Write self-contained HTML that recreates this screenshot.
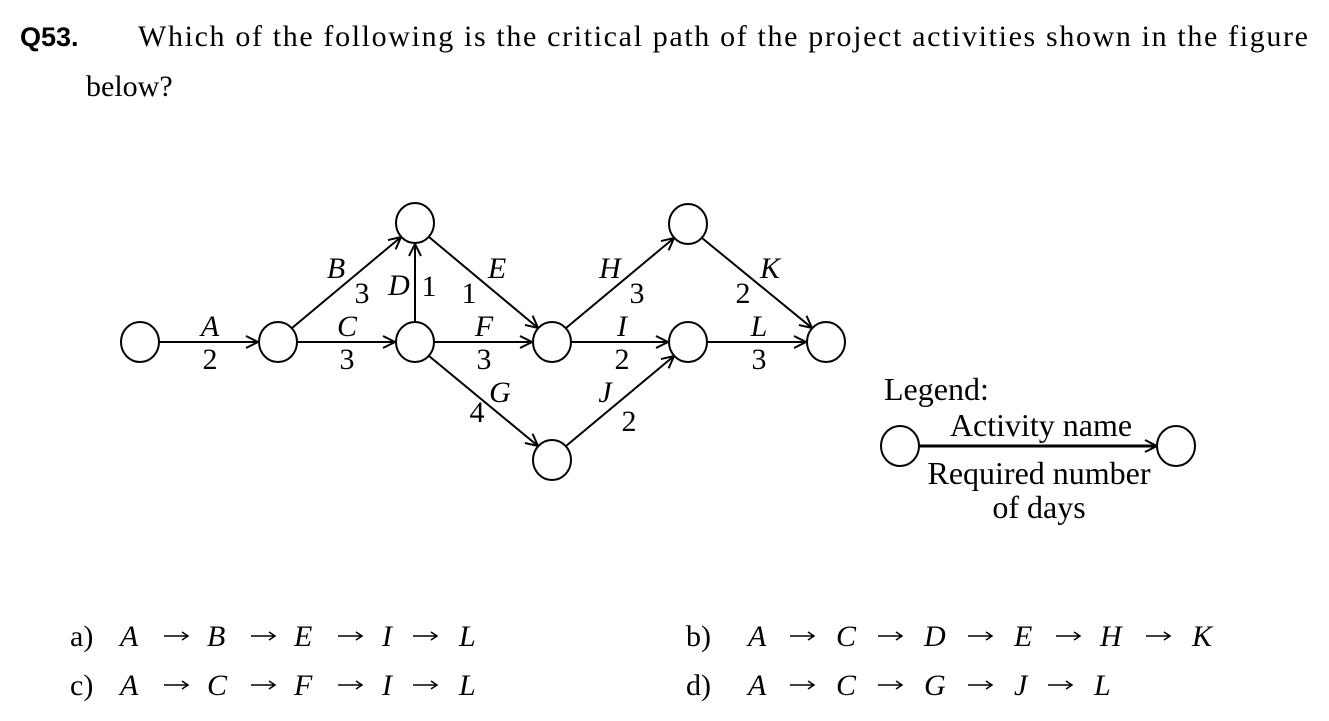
<!DOCTYPE html>
<html><head><meta charset="utf-8"><style>
html,body{margin:0;padding:0;background:#fff;}
body{width:1329px;height:721px;overflow:hidden;position:relative;}
</style></head><body>
<svg width="1329" height="721" viewBox="0 0 1329 721" xmlns="http://www.w3.org/2000/svg" style="position:absolute;left:0;top:0">
<defs>
<marker id="ar" markerWidth="14" markerHeight="14" refX="13" refY="7" orient="auto" markerUnits="userSpaceOnUse">
<path d="M1,1 L13,7 L1,13" fill="none" stroke="#000" stroke-width="2"/>
</marker>
<path id="sa" d="M0,0 H24 M18,-4 L24,0 L18,4" fill="none" stroke="#000" stroke-width="1.5"/>
</defs>
<g font-family="'Liberation Sans',sans-serif" font-weight="bold" font-size="27"><text x="20" y="46">Q53.</text></g>
<g font-family="'Liberation Serif',serif" font-size="30" fill="#000">
<text x="138" y="46" textLength="1170" lengthAdjust="spacing">Which of the following is the critical path of the project activities shown in the figure</text>
<text x="86" y="96">below?</text>
</g>
<g stroke="#000" stroke-width="2" fill="none">
<ellipse cx="140" cy="342" rx="19" ry="20"/>
<ellipse cx="278" cy="342" rx="19" ry="20"/>
<ellipse cx="415" cy="223" rx="19" ry="20"/>
<ellipse cx="415" cy="342" rx="19" ry="20"/>
<ellipse cx="552" cy="342" rx="19" ry="20"/>
<ellipse cx="552" cy="460" rx="19" ry="20"/>
<ellipse cx="688" cy="224" rx="19" ry="20"/>
<ellipse cx="688" cy="342" rx="19" ry="20"/>
<ellipse cx="826" cy="342" rx="19" ry="20"/>
<ellipse cx="900" cy="446" rx="19" ry="20"/>
<ellipse cx="1176" cy="446" rx="19" ry="20"/>
</g>
<g stroke="#000" stroke-width="2" fill="none" marker-end="url(#ar)">
<line x1="159" y1="342" x2="258" y2="342"/>
<line x1="297" y1="342" x2="395" y2="342"/>
<line x1="292" y1="328" x2="401" y2="237"/>
<line x1="415" y1="322" x2="415" y2="244"/>
<line x1="429" y1="237" x2="538" y2="328"/>
<line x1="434" y1="342" x2="532" y2="342"/>
<line x1="429" y1="356" x2="538" y2="446"/>
<line x1="566" y1="328" x2="674" y2="238"/>
<line x1="571" y1="342" x2="668" y2="342"/>
<line x1="566" y1="446" x2="674" y2="356"/>
<line x1="702" y1="238" x2="812" y2="328"/>
<line x1="707" y1="342" x2="806" y2="342"/>
<line x1="919" y1="446" x2="1157" y2="446" stroke-width="3"/>
</g>
<g font-family="'Liberation Serif',serif" font-size="30" fill="#000" text-anchor="middle">
<g font-style="italic">
<text x="210" y="336">A</text><text x="347" y="336">C</text><text x="336" y="278">B</text>
<text x="399" y="295">D</text><text x="497" y="278">E</text><text x="484" y="336">F</text>
<text x="500" y="402">G</text><text x="610" y="278">H</text><text x="622" y="336">I</text>
<text x="605" y="402">J</text><text x="770" y="278">K</text><text x="759" y="336">L</text>
</g>
<text x="210" y="369">2</text><text x="362" y="303">3</text><text x="347" y="369">3</text>
<text x="429" y="296">1</text><text x="469" y="303">1</text><text x="484" y="369">3</text>
<text x="477" y="422">4</text><text x="637" y="303">3</text><text x="622" y="369">2</text>
<text x="629" y="431">2</text><text x="743" y="303">2</text><text x="759" y="369">3</text>
</g>
<g font-family="'Liberation Serif',serif" font-size="32" fill="#000">
<text x="884" y="400">Legend:</text>
<text x="1041" y="436" text-anchor="middle">Activity name</text>
<text x="1039" y="484" text-anchor="middle">Required number</text>
<text x="1039" y="518" text-anchor="middle">of days</text>
</g>
<g font-family="'Liberation Serif',serif" font-size="30" fill="#000">
<text x="70" y="646">a)</text>
<g font-style="italic"><text x="120" y="646">A</text><text x="207" y="646">B</text><text x="294" y="646">E</text><text x="382" y="646">I</text><text x="459" y="646">L</text></g>
<text x="70" y="695">c)</text>
<g font-style="italic"><text x="120" y="695">A</text><text x="207" y="695">C</text><text x="294" y="695">F</text><text x="382" y="695">I</text><text x="459" y="695">L</text></g>
<text x="686" y="646">b)</text>
<g font-style="italic"><text x="748" y="646">A</text><text x="836" y="646">C</text><text x="924" y="646">D</text><text x="1014" y="646">E</text><text x="1100" y="646">H</text><text x="1192" y="646">K</text></g>
<text x="686" y="695">d)</text>
<g font-style="italic"><text x="748" y="695">A</text><text x="836" y="695">C</text><text x="924" y="695">G</text><text x="1014" y="695">J</text><text x="1094" y="695">L</text></g>
</g>
<g>
<use href="#sa" x="164" y="636"/><use href="#sa" x="251" y="636"/><use href="#sa" x="338" y="636"/><use href="#sa" x="413" y="636"/>
<use href="#sa" x="164" y="685"/><use href="#sa" x="251" y="685"/><use href="#sa" x="338" y="685"/><use href="#sa" x="413" y="685"/>
<use href="#sa" x="790" y="636"/><use href="#sa" x="878" y="636"/><use href="#sa" x="968" y="636"/><use href="#sa" x="1056" y="636"/><use href="#sa" x="1146" y="636"/>
<use href="#sa" x="790" y="685"/><use href="#sa" x="878" y="685"/><use href="#sa" x="968" y="685"/><use href="#sa" x="1048" y="685"/>
</g>
</svg>
</body></html>
